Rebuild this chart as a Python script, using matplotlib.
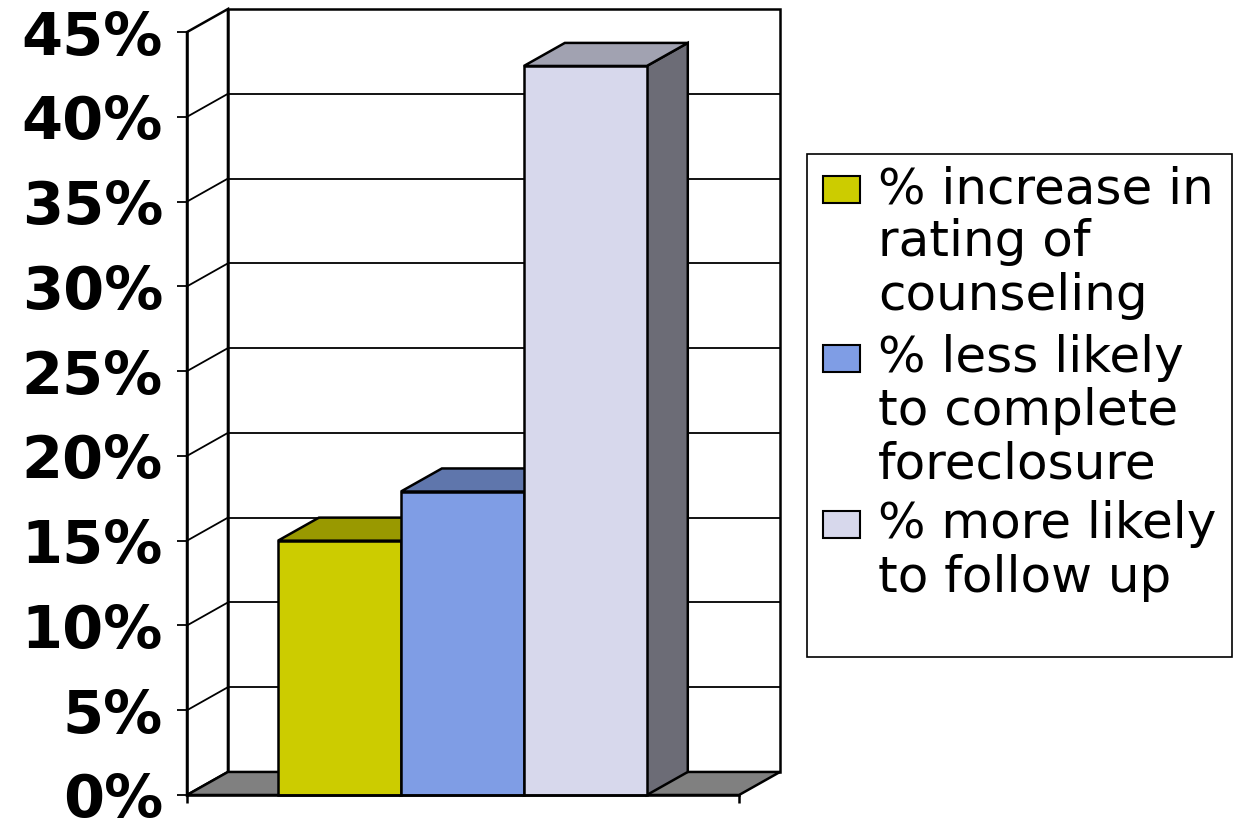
import matplotlib
matplotlib.use("Agg")
import matplotlib.pyplot as plt
from matplotlib.patches import Polygon, Rectangle
from matplotlib.colors import to_rgb

# survey outcomes (percent)
series_labels = ["% increase in\nrating of\ncounseling",
                 "% less likely\nto complete\nforeclosure",
                 "% more likely\nto follow up"]
series_values = [15.0, 17.9, 43.0]
series_colors = ["#CCCC00", "#7F9DE5", "#D7D8EC"]
y_ticks = [0, 5, 10, 15, 20, 25, 30, 35, 40, 45]

W, H = 1236, 818
fig = plt.figure(figsize=(W / 100, H / 100), dpi=100)

# pseudo-3d geometry in data units
bar_w = 1.0
x_left, x_right = -1.24, 3.25
depth_x, depth_y = 0.333, 1.36
y_top = 45
LW = 1.8

ax = fig.add_axes([187 / W, 23 / H, 593 / W, 786 / H])
ax.set_xlim(x_left, x_right + depth_x)
ax.set_ylim(0, y_top + depth_y)
ax.patch.set_visible(False)

edge = dict(edgecolor="black", linewidth=LW, joinstyle="miter", clip_on=False)

# left side wall
ax.add_patch(Polygon([(x_left, 0), (x_left, y_top),
                      (x_left + depth_x, y_top + depth_y),
                      (x_left + depth_x, depth_y)],
                     facecolor="white", zorder=1, **edge))
# back wall
ax.add_patch(Rectangle((x_left + depth_x, depth_y), x_right - x_left, y_top,
                       facecolor="white", zorder=1, **edge))
# gridlines on both walls
for v in y_ticks[1:-1]:
    ax.plot([x_left, x_left + depth_x], [v, v + depth_y], color="black",
            lw=1.3, zorder=2, clip_on=False)
    ax.plot([x_left + depth_x, x_right + depth_x], [v + depth_y, v + depth_y],
            color="black", lw=1.3, zorder=2, clip_on=False)
# floor
ax.add_patch(Polygon([(x_left, 0), (x_right, 0),
                      (x_right + depth_x, depth_y), (x_left + depth_x, depth_y)],
                     facecolor="#808080", zorder=3, **edge))


def shade(color, k):
    return tuple(c * k for c in to_rgb(color))


# bars: right side face, top face, front face
for i, (val, col) in enumerate(zip(series_values, series_colors)):
    x0, x1 = i - bar_w / 2, i + bar_w / 2
    z = 4 + i
    ax.add_patch(Polygon([(x1, 0), (x1 + depth_x, depth_y),
                          (x1 + depth_x, val + depth_y), (x1, val)],
                         facecolor=shade(col, 0.5), zorder=z, **edge))
    ax.add_patch(Polygon([(x0, val), (x1, val), (x1 + depth_x, val + depth_y),
                          (x0 + depth_x, val + depth_y)],
                         facecolor=shade(col, 0.75), zorder=z, **edge))
    ax.add_patch(Rectangle((x0, 0), bar_w, val, facecolor=col, zorder=z, **edge))

# axes lines and ticks
for s in ["top", "right"]:
    ax.spines[s].set_visible(False)
ax.spines["left"].set_bounds(0, y_top)
ax.spines["bottom"].set_bounds(x_left, x_right)
for s in ["left", "bottom"]:
    ax.spines[s].set_linewidth(LW)
    ax.spines[s].set_zorder(10)

ax.set_yticks(y_ticks)
ax.set_yticklabels([f"{v}%" for v in y_ticks], fontsize=42.5,
                   fontweight="bold", family="DejaVu Sans")
ax.tick_params(axis="y", direction="out", length=7.2, width=1.3, pad=10)
ax.set_xticks([x_left, x_right])
ax.set_xticklabels(["", ""])
ax.tick_params(axis="x", direction="out", length=6, width=LW)


# legend box drawn in figure pixels
def fx(px):
    return px / W


def fy(py):
    return 1 - py / H


fig.add_artist(Rectangle((fx(807), fy(657)), fx(1232) - fx(807), fy(154) - fy(657),
                         transform=fig.transFigure, facecolor="white",
                         edgecolor="black", linewidth=1.2))
baselines = [203, 371.5, 538]
line_step = 53.5
for lab, col, base in zip(series_labels, series_colors, baselines):
    fig.add_artist(Rectangle((fx(823), fy(base)), fx(860) - fx(823), fy(base - 27) - fy(base),
                             transform=fig.transFigure, facecolor=col,
                             edgecolor="black", linewidth=1.5))
    for k, line in enumerate(lab.split("\n")):
        fig.text(fx(878), fy(base + k * line_step), line, fontsize=36,
                 family="DejaVu Sans", va="baseline", ha="left")

fig.savefig("out.png", dpi=100)
